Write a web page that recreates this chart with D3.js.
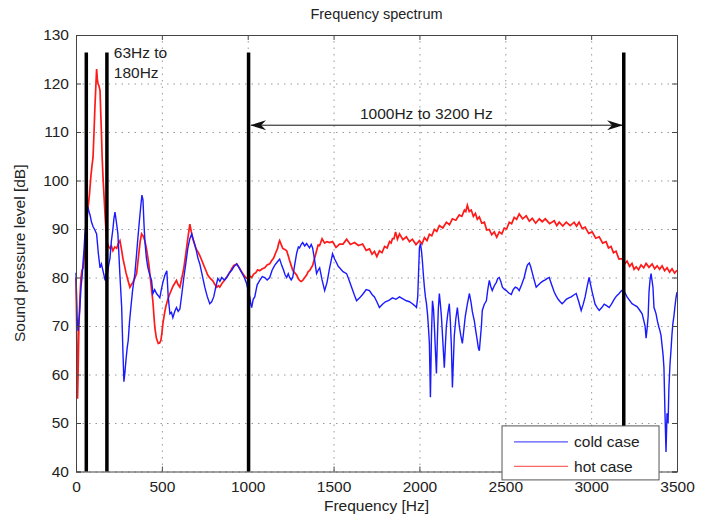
<!DOCTYPE html>
<html>
<head>
<meta charset="utf-8">
<script src="https://cdn.jsdelivr.net/npm/d3@7"></script>
<style>
  body { margin: 0; background: #fff; }
  text { font-family: "Liberation Sans", Arial, sans-serif; fill: #222; }
</style>
</head>
<body>
<script>
// axis ticks
var xTicks = [0, 500, 1000, 1500, 2000, 2500, 3000, 3500];
var yTicks = [40, 50, 60, 70, 80, 90, 100, 110, 120, 130];

// cold case spectrum [Hz, dB]
var coldCase = [[0,81],[6,72],[12,69],[18,71.5],[23,74],[29,78],[35,80],[41,83],[47,86],[52,89],[58,91],[64,93],[70,94.5],[76,93.5],[81,93],[90,91.5],[99,90.5],[110,89.8],[120,89],[130,85],[140,82],[148,82.8],[157,81.4],[163,80.5],[169,79.4],[175,80.8],[180,80],[190,82.5],[198,84],[206,87.5],[215,90],[221,92.2],[227,93.5],[235,91.5],[244,89],[255,81],[266,73.8],[273,65],[279,58.5],[285,60.5],[291,63],[298,65.5],[304,67],[312,71],[320,74],[330,77.5],[343,80.8],[352,84.5],[360,88],[370,92],[378,95],[384,97],[390,96],[396,91],[401,87.6],[410,84],[419,82],[430,80.5],[440,79.4],[448,76.7],[458,77.5],[469,76.7],[478,76.3],[488,75.8],[497,77.5],[506,79],[518,80.5],[529,81.4],[537,76],[547,72.5],[556,72.8],[564,71.7],[575,73],[585,73.8],[595,73],[605,73.5],[616,76.5],[628,80],[640,83],[651,86],[663,88],[674,89],[686,87.5],[698,86],[710,84],[721,82.8],[735,80.5],[750,78],[765,76],[779,74.6],[790,75],[802,76],[814,78],[826,79.8],[838,79.2],[849,80],[864,79.5],[878,80],[893,81],[907,81.5],[921,82.3],[936,82.8],[950,82],[965,81],[980,80],[994,78.7],[1004,77],[1012,76],[1018,74.5],[1023,73.8],[1032,75.5],[1041,76],[1055,78.5],[1070,79.4],[1085,80.2],[1099,80],[1113,79.5],[1128,80],[1142,81.5],[1157,82.5],[1172,83.2],[1186,83.8],[1198,82.5],[1209,81.5],[1218,80.5],[1227,80],[1236,80.8],[1244,80],[1253,79.5],[1262,80],[1273,82.5],[1285,85],[1295,86.3],[1302,86.1],[1311,86.8],[1320,87.2],[1332,86.5],[1343,87],[1352,86.5],[1360,86.1],[1370,86.8],[1378,86.1],[1390,83.5],[1401,80.8],[1410,81.5],[1419,82],[1433,79.5],[1448,77.3],[1462,79],[1477,82],[1486,83.5],[1494,84.9],[1506,83.8],[1518,83],[1527,82.3],[1535,82],[1555,81.2],[1576,80.8],[1590,79.5],[1605,78],[1620,76.5],[1634,75.2],[1652,75.8],[1669,76.5],[1690,77.5],[1709,77.3],[1724,76.5],[1738,76],[1752,75],[1767,73.8],[1785,74.5],[1802,75],[1822,75.3],[1843,75.8],[1863,75.5],[1884,76],[1904,75.6],[1924,75.2],[1942,75],[1959,74.6],[1972,74.2],[1983,73.8],[1990,76],[1994,80],[2000,86.1],[2006,87],[2012,85.5],[2017,83.5],[2023,80.5],[2029,78],[2035,76],[2041,74.6],[2047,72.5],[2052,70],[2058,66.4],[2064,55.3],[2070,68],[2076,75.2],[2082,73.5],[2087,70],[2093,65],[2099,60.2],[2105,68],[2110,73.5],[2116,76.7],[2122,74.5],[2128,72],[2136,67],[2145,61.4],[2151,66],[2157,70],[2165,72.5],[2174,74.6],[2180,71],[2186,66],[2192,57.3],[2197,62],[2203,68],[2212,71.5],[2221,73.8],[2226,72],[2232,70],[2241,68],[2250,66.4],[2258,69],[2267,72],[2279,74.5],[2291,76.7],[2300,75],[2308,73],[2314,72],[2320,71],[2328,69],[2337,67],[2343,65.5],[2349,64.9],[2355,67.5],[2361,70],[2366,73.2],[2378,74.5],[2390,75.2],[2398,77.5],[2407,79.4],[2415,78.2],[2424,77.3],[2436,78.3],[2448,79],[2456,79.8],[2465,80],[2474,79.2],[2483,78],[2494,77.6],[2506,77.3],[2520,76.8],[2535,76.5],[2546,77.5],[2558,78],[2570,77.8],[2581,77.3],[2595,78.5],[2610,80],[2620,81.5],[2628,82.5],[2634,82.8],[2640,83],[2648,82.2],[2657,81],[2668,79.5],[2680,78],[2694,78.5],[2709,79],[2721,79.3],[2733,79.5],[2745,79.8],[2756,80],[2770,78.5],[2785,77],[2796,76.2],[2808,75.5],[2820,75],[2831,74.6],[2843,75],[2855,75.5],[2870,75.8],[2884,76],[2899,76.4],[2913,76.7],[2928,75],[2942,73.2],[2954,74.5],[2965,76],[2976,78],[2988,80],[2997,78.5],[3006,77],[3015,75.7],[3023,74.5],[3035,73.8],[3047,73.2],[3062,73.8],[3076,74.5],[3090,74.2],[3105,73.8],[3120,74.6],[3134,75.5],[3148,76.2],[3163,76.7],[3175,77.2],[3186,77.5],[3198,76.8],[3209,76],[3224,75.3],[3238,74.6],[3252,74.3],[3267,74],[3282,73.3],[3297,72.5],[3306,71.2],[3314,70],[3320,67.5],[3326,69.5],[3332,72],[3337,77],[3343,79.5],[3349,80.8],[3354,79.5],[3360,78],[3366,73.8],[3372,73.2],[3378,72.5],[3386,71],[3395,69.7],[3401,69],[3407,68],[3413,66],[3419,64],[3424,61.4],[3430,52],[3436,44],[3442,52],[3448,50],[3453,57.3],[3459,62],[3465,65],[3471,68.4],[3476,70.5],[3482,72],[3488,74],[3494,75.8],[3500,77]];

// hot case spectrum [Hz, dB]
var hotCase = [[0,80],[4,70],[6,62],[9,55],[12,60],[17,70],[23,76],[29,80],[35,81.5],[42,82],[47,84],[52,86],[58,89],[64,92],[70,94.4],[78,97],[87,101],[93,103],[99,104.7],[105,110],[110,115],[115,119],[120,123],[124,121],[128,120],[134,119.5],[140,118.5],[144,114],[148,110],[152,105],[157,101],[163,97],[169,93],[174,90],[178,87.6],[188,86.5],[198,86],[206,86.5],[215,85.5],[226,86.3],[237,86],[246,87],[256,87.6],[264,86],[273,84],[282,82.5],[291,81],[302,79.5],[314,78],[322,78.5],[331,79],[342,79.8],[353,80.8],[360,83],[366,85],[374,87.5],[382,89],[392,88.5],[401,87.6],[410,86],[419,84],[425,82.5],[430,80.8],[440,77.5],[448,75],[454,72],[459,69.7],[468,67.5],[479,66.4],[487,66.5],[494,67],[500,68.5],[506,70.5],[515,72.5],[523,74],[535,75.5],[547,76.7],[565,78.2],[585,79.4],[595,78.5],[605,78],[617,80],[628,82],[640,85],[651,88],[657,89.5],[663,91],[671,89.5],[680,88],[689,87],[698,86],[710,85.3],[721,84.5],[733,83.5],[744,82.5],[756,81.5],[767,80.5],[782,79.8],[797,79.3],[808,78.6],[820,78],[829,78.3],[837,78],[851,78.8],[866,79.5],[880,80.2],[895,81],[907,81.8],[919,82.5],[928,82.6],[936,82.8],[948,82.2],[959,81.5],[968,81],[977,80.5],[988,80],[1000,79.8],[1012,80.3],[1023,80],[1035,80.7],[1047,81],[1058,81.6],[1070,81.4],[1085,81.8],[1099,82],[1113,82.6],[1128,82.8],[1140,83.5],[1151,84],[1162,85],[1174,86],[1180,87],[1186,87.6],[1195,86.8],[1204,86],[1216,85.8],[1227,85.5],[1236,84.5],[1244,83.5],[1253,82.5],[1262,81.5],[1273,81],[1285,80.5],[1294,79.8],[1302,79.4],[1311,79.2],[1320,79.4],[1332,80],[1343,80.5],[1352,81.2],[1360,81.4],[1370,82],[1378,82.5],[1390,84],[1401,85.5],[1410,86.7],[1419,86.6],[1433,88],[1448,87.1],[1462,87.4],[1477,87.2],[1494,87.4],[1514,86.2],[1535,86.9],[1555,86.9],[1576,87.9],[1598,86.8],[1622,87.2],[1645,86.6],[1669,86.9],[1690,85.6],[1709,85.9],[1724,84.8],[1738,85.4],[1752,84.3],[1767,85.5],[1782,85.1],[1797,86.4],[1812,86.1],[1826,87.4],[1835,87.1],[1843,88],[1852,88],[1861,89.4],[1872,87.9],[1884,89],[1904,87.8],[1924,88.4],[1942,87.4],[1959,87.9],[1980,86.8],[2000,87.6],[2015,86.9],[2029,88.2],[2044,87.6],[2058,88.9],[2072,88.6],[2087,89.9],[2101,89.5],[2116,90.7],[2136,90.2],[2157,91.4],[2175,90.9],[2192,92.1],[2212,91.8],[2232,92.9],[2247,92.6],[2262,93.9],[2270,93.6],[2279,94.9],[2290,93.6],[2302,93.9],[2314,92.6],[2326,93.2],[2337,92],[2349,92.5],[2363,91.2],[2378,91.4],[2392,89.8],[2407,89.9],[2421,88.8],[2436,89.4],[2450,88.3],[2465,89.4],[2480,89],[2494,90.2],[2508,90],[2523,91.4],[2537,91.1],[2552,92.4],[2566,92],[2581,93.1],[2601,92.1],[2622,92.7],[2640,91.6],[2657,92.2],[2677,91.2],[2698,92.1],[2715,91.5],[2733,92.1],[2758,91.1],[2785,91.7],[2800,90.7],[2814,91.4],[2835,90.6],[2855,91.4],[2878,90.7],[2901,91.4],[2915,90.6],[2930,91.4],[2948,90.1],[2965,90.4],[2986,89.1],[3006,89.4],[3027,88.1],[3047,88.4],[3067,87.1],[3087,87.4],[3101,86.1],[3116,86.4],[3130,85.1],[3145,85.4],[3162,83.8],[3180,83.9],[3195,82.8],[3209,83.4],[3224,82.3],[3238,82.9],[3250,81.7],[3262,82.2],[3276,81.6],[3291,82.6],[3306,82],[3320,82.9],[3337,82.1],[3355,82.8],[3370,81.8],[3384,82.4],[3399,81.7],[3413,82.4],[3428,81.4],[3442,82],[3457,81.1],[3471,81.8],[3486,80.9],[3500,81.5]];

// band markers (vertical black lines) and their top level
var markerFreqs = [60, 180, 1005, 3190];
var markerTop = 126.4;
var arrowRange = [1020, 3180];
var arrowLevel = 111.4;

var svgWidth = 701;
var svgHeight = 518;

var margin = { top: 35, right: 24, bottom: 46.5, left: 76 };
var width = svgWidth - margin.left - margin.right;
var height = svgHeight - margin.top - margin.bottom;

var svg = d3.select("body")
  .append("svg")
  .attr("width", svgWidth)
  .attr("height", svgHeight);

var chartGroup = svg.append("g")
  .attr("transform", `translate(${margin.left}, ${margin.top})`);

var xScale = d3.scaleLinear().domain([0, 3500]).range([0, width]);
var yScale = d3.scaleLinear().domain([40, 130]).range([height, 0]);

// dotted grid
var gridX = chartGroup.append("g")
  .attr("transform", `translate(0, ${height})`)
  .call(d3.axisBottom(xScale).tickValues(xTicks).tickSize(-height).tickFormat(""));
var gridY = chartGroup.append("g")
  .call(d3.axisLeft(yScale).tickValues(yTicks).tickSize(-width).tickFormat(""));
[gridX, gridY].forEach(function(g) {
  g.select(".domain").remove();
  g.selectAll("line")
    .attr("stroke", "#9a9a9a")
    .attr("stroke-width", 1)
    .attr("stroke-dasharray", "1.5,5");
});

// spectra
var line = d3.line()
  .x(d => xScale(d[0]))
  .y(d => yScale(d[1]));

chartGroup.append("path")
  .datum(hotCase)
  .attr("fill", "none")
  .attr("stroke", "#ff1a1a")
  .attr("stroke-width", 1.7)
  .attr("d", line);

chartGroup.append("path")
  .datum(coldCase)
  .attr("fill", "none")
  .attr("stroke", "#1a1aff")
  .attr("stroke-width", 1.4)
  .attr("d", line);

// axes with ticks pointing inward, like matlab
var bottomAxis = d3.axisBottom(xScale).tickValues(xTicks).tickSize(-5).tickPadding(9).tickFormat(d3.format("d"));
var leftAxis = d3.axisLeft(yScale).tickValues(yTicks).tickSize(-5).tickPadding(7).tickFormat(d3.format("d"));
var topAxis = d3.axisTop(xScale).tickValues(xTicks).tickSize(-5).tickFormat("");
var rightAxis = d3.axisRight(yScale).tickValues(yTicks).tickSize(-5).tickFormat("");

var axes = [
  chartGroup.append("g").attr("transform", `translate(0, ${height})`).call(bottomAxis),
  chartGroup.append("g").call(leftAxis),
  chartGroup.append("g").call(topAxis),
  chartGroup.append("g").attr("transform", `translate(${width}, 0)`).call(rightAxis)
];
axes.forEach(function(g) {
  g.select(".domain").attr("stroke", "#444");
  g.selectAll("line").attr("stroke", "#444");
  g.selectAll("text")
    .style("font-family", '"Liberation Sans", Arial, sans-serif')
    .style("font-size", "15.5px")
    .attr("fill", "#222");
});

// band marker lines
chartGroup.selectAll(".marker")
  .data(markerFreqs)
  .enter().append("line")
  .attr("class", "marker")
  .attr("x1", d => xScale(d))
  .attr("x2", d => xScale(d))
  .attr("y1", yScale(markerTop))
  .attr("y2", height)
  .attr("stroke", "#000")
  .attr("stroke-width", 3.5);

// double arrow for the 1000-3200 band
var defs = svg.append("defs");
defs.append("marker")
  .attr("id", "head")
  .attr("viewBox", "0 0 16 10")
  .attr("refX", 15)
  .attr("refY", 5)
  .attr("markerWidth", 16)
  .attr("markerHeight", 10)
  .attr("markerUnits", "userSpaceOnUse")
  .attr("orient", "auto-start-reverse")
  .append("path")
  .attr("d", "M0,0 L16,5 L0,10 L5,5 Z")
  .attr("fill", "#111");

chartGroup.append("line")
  .attr("x1", xScale(arrowRange[0]))
  .attr("x2", xScale(arrowRange[1]))
  .attr("y1", yScale(arrowLevel))
  .attr("y2", yScale(arrowLevel))
  .attr("stroke", "#111")
  .attr("stroke-width", 1)
  .attr("marker-start", "url(#head)")
  .attr("marker-end", "url(#head)");

chartGroup.append("text")
  .attr("x", xScale(2040))
  .attr("y", yScale(arrowLevel) - 6)
  .attr("text-anchor", "middle")
  .style("font-size", "15.5px")
  .text("1000Hz to 3200 Hz");

var lowLabel = chartGroup.append("text")
  .attr("x", xScale(220))
  .attr("y", yScale(125.2))
  .style("font-size", "15.5px");
lowLabel.append("tspan").text("63Hz to");
lowLabel.append("tspan").attr("x", xScale(220)).attr("dy", 19.5).text("180Hz");

// legend
var legend = chartGroup.append("g")
  .attr("transform", `translate(${xScale(2481)}, ${yScale(49.4)})`);
legend.append("rect")
  .attr("width", 157)
  .attr("height", 54)
  .attr("fill", "#fff")
  .attr("stroke", "#555")
  .attr("stroke-width", 1);
var legendItems = [["cold case", "#5555ff"], ["hot case", "#ff6666"]];
legendItems.forEach(function(item, i) {
  legend.append("line")
    .attr("x1", 12).attr("x2", 66)
    .attr("y1", 16 + i * 24.5).attr("y2", 16 + i * 24.5)
    .attr("stroke", item[1])
    .attr("stroke-width", 1.2);
  legend.append("text")
    .attr("x", 72)
    .attr("y", 21.5 + i * 24.5)
    .style("font-size", "15.5px")
    .text(item[0]);
});

// titles
svg.append("text")
  .attr("x", margin.left + width / 2)
  .attr("y", 19)
  .attr("text-anchor", "middle")
  .style("font-size", "14.5px")
  .text("Frequency spectrum");

svg.append("text")
  .attr("x", margin.left + width / 2)
  .attr("y", 511)
  .attr("text-anchor", "middle")
  .style("font-size", "15.5px")
  .text("Frequency [Hz]");

svg.append("text")
  .attr("transform", `translate(25, ${margin.top + height / 2}) rotate(-90)`)
  .attr("text-anchor", "middle")
  .style("font-size", "15.5px")
  .text("Sound pressure level [dB]");
</script>
</body>
</html>
